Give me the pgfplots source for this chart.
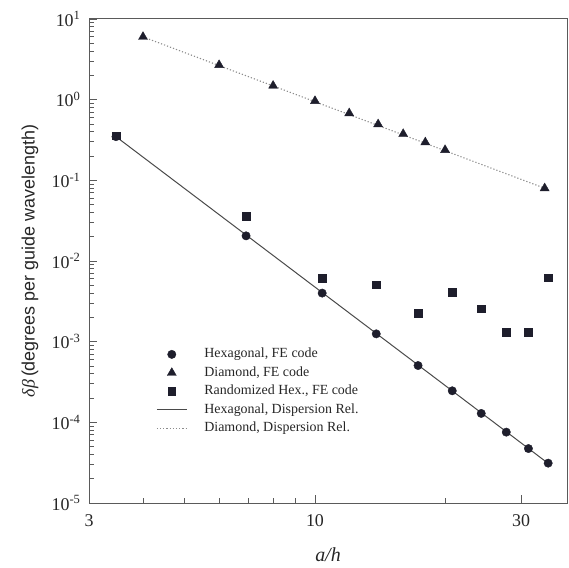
\documentclass[border=0pt]{standalone}
\usepackage{fontspec}
\setmainfont{Liberation Serif}
\setsansfont{Liberation Sans}
\usepackage{pgfplots}
\pgfplotsset{compat=1.18}

\definecolor{mk}{HTML}{1E1E2C}
\definecolor{axc}{HTML}{5A5A5A}
\definecolor{hexline}{HTML}{4A4A4A}
\definecolor{dialine}{HTML}{8C8C8C}

% legend images 30bp wide, marker in the middle
\pgfplotsset{
  markleg/.style={legend image code/.code={%
    \pgfpathrectangle{\pgfpoint{0bp}{-1bp}}{\pgfpoint{30bp}{2bp}}\pgfusepath{}%
    \path[##1] plot coordinates {(15bp,0bp)};}},
  lineleg/.style={legend image code/.code={\draw[##1] (0bp,0bp) -- (30bp,0bp);}},
}

\begin{document}
\begin{tikzpicture}
\path[use as bounding box] (-89bp,-65bp) rectangle (480bp,503bp);
\begin{axis}[
  xmode=log, ymode=log,
  scale only axis,
  width=478bp, height=484bp,
  xmin=3, xmax=38.3,
  ymin=1e-5, ymax=10,
  xtick={3,10,30}, xticklabels={3,10,30},
  minor xtick={4,5,6,7,8,9,20},
  ytick={1e-5,1e-4,1e-3,1e-2,1e-1,1,10},
  yticklabels={10\textsuperscript{-5},10\textsuperscript{-4},10\textsuperscript{-3},10\textsuperscript{-2},10\textsuperscript{-1},10\textsuperscript{0},10\textsuperscript{1}},
  minor ytick={2e-5,3e-5,4e-5,5e-5,6e-5,7e-5,8e-5,9e-5,
               2e-4,3e-4,4e-4,5e-4,6e-4,7e-4,8e-4,9e-4,
               2e-3,3e-3,4e-3,5e-3,6e-3,7e-3,8e-3,9e-3,
               2e-2,3e-2,4e-2,5e-2,6e-2,7e-2,8e-2,9e-2,
               0.2,0.3,0.4,0.5,0.6,0.7,0.8,0.9,
               2,3,4,5,6,7,8,9},
  xtick pos=left, ytick pos=left,
  tick align=inside,
  axis line style={axc, line width=1bp},
  major tick length=8bp, minor tick length=5bp,
  every tick/.style={axc, line width=0.8bp},
  tick label style={font=\fontsize{18}{18}\selectfont, text=black!85},
  yticklabel style={xshift=-5bp},
  xticklabel style={yshift=-8bp},
  xlabel={\textit{a/h}},
  xlabel style={font=\fontsize{20}{20}\selectfont, text=black!85,
    at={(axis description cs:0.5,-0.107)}, anchor=center},
  ylabel={{\rmfamily\textit{δβ}}\,(degrees per guide wavelength)},
  ylabel style={font=\fontsize{18}{18}\sffamily, text=black!85,
    at={(axis description cs:-0.1234,0.5)}, anchor=center},
  legend style={draw=none, fill=none,
    at={(axis description cs:0.134,0.324)}, anchor=north west,
    font=\fontsize{14}{14}\selectfont, text=black!85,
    row sep=6.5bp, cells={anchor=west},
    nodes={inner sep=0pt, text height=9.5bp, text depth=2.5bp},
    /tikz/every odd column/.append style={column sep=17bp}},
]

% Hexagonal, FE code
\addplot[only marks, mark=*, mark size=4.2bp, mk, markleg]
coordinates {(3.464,0.348)(6.928,0.0205)(10.39,0.0040)(13.86,0.00125)(17.32,5.06e-4)
 (20.78,2.46e-4)(24.25,1.29e-4)(27.71,7.56e-5)(31.18,4.73e-5)(34.64,3.12e-5)};
\addlegendentry{Hexagonal, FE code}

% Diamond, FE code
\addplot[only marks, mark=triangle*, mark size=5.2bp, mk, markleg]
coordinates {(4,6.0)(6,2.69)(8,1.49)(10,0.964)(12,0.679)(14,0.496)(16,0.376)
 (18,0.296)(20,0.238)(34,0.0798)};
\addlegendentry{Diamond, FE code}

% Randomized Hex., FE code
\addplot[only marks, mark=square*, mark size=3.8bp, mk, markleg]
coordinates {(3.464,0.358)(6.928,0.0362)(10.39,0.00612)(13.86,0.00506)(17.32,0.00225)
 (20.78,0.0041)(24.25,0.00255)(27.71,0.00131)(31.18,0.00131)(34.64,0.00622)};
\addlegendentry{Randomized Hex., FE code}

% Hexagonal, dispersion relation
\addplot[hexline, line width=1bp, no marks, lineleg]
coordinates {(3.464,0.348)(34.64,3.1e-5)};
\addlegendentry{Hexagonal, Dispersion Rel.}

% Diamond, dispersion relation
\addplot[dialine, line width=1.1bp, dash pattern=on 1.2bp off 2bp, no marks, lineleg]
coordinates {(4,6.0)(34,0.0798)};
\addlegendentry{Diamond, Dispersion Rel.}

\end{axis}
\end{tikzpicture}
\end{document}
